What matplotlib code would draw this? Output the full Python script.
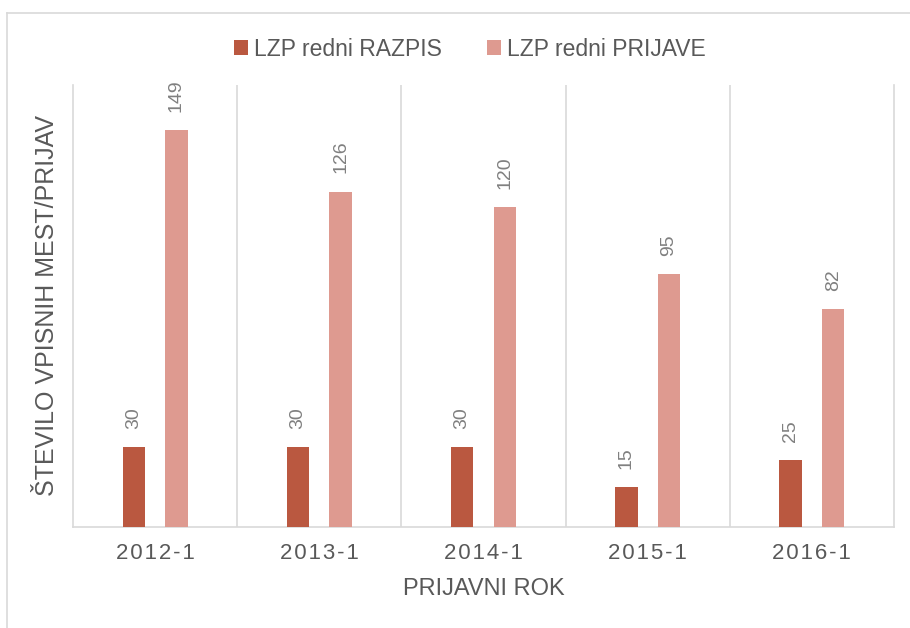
import numpy as np
import matplotlib.pyplot as plt
from matplotlib.lines import Line2D

plt.rcParams['font.family'] = ['Liberation Sans', 'DejaVu Sans']

# --- data ---
categories = ['2012-1', '2013-1', '2014-1', '2015-1', '2016-1']
razpis = [30, 30, 30, 15, 25]
prijave = [149, 126, 120, 95, 82]
series_names = ['LZP redni RAZPIS', 'LZP redni PRIJAVE']

C_RAZPIS = '#BA5840'
C_PRIJAVE = '#DE9A90'
TXT = '#595959'
LBL = '#808080'
GRID = '#D9D9D9'

fig = plt.figure(figsize=(9.1, 6.28), dpi=100)
W, H = 910, 628
ax = fig.add_axes([73 / W, 1 - 527 / H, (894 - 73) / W, (527 - 85) / H])

x = np.arange(len(categories))
bw = 0.137
off = 0.13
b1 = ax.bar(x - off, razpis, bw, color=C_RAZPIS, label=series_names[0], zorder=3)
b2 = ax.bar(x + off, prijave, bw, color=C_PRIJAVE, label=series_names[1], zorder=3)

for bars, vals in ((b1, razpis), (b2, prijave)):
    for rect, v in zip(bars, vals):
        ax.annotate(str(v), (rect.get_x() + rect.get_width() / 2, v),
                    xytext=(0, 13), textcoords='offset points',
                    rotation=90, ha='center', va='bottom',
                    fontsize=14, color=LBL)

ax.set_xlim(-0.5, len(categories) - 0.5)
ax.set_ylim(0, 166)
ax.set_yticks([])
ax.set_xticks(x)
# tick labels are slightly letter-spaced in the original (hair spaces)
ax.set_xticklabels(['\u200a'.join(c) for c in categories], fontsize=16, color=TXT)
ax.tick_params(axis='x', length=0, pad=11.5)
for xb in np.arange(0.5, len(categories) - 0.5, 1):
    ax.axvline(xb, color=GRID, lw=1.2, zorder=1)

ax.spines['top'].set_visible(False)
for side in ('left', 'right', 'bottom'):
    ax.spines[side].set_color(GRID)
    ax.spines[side].set_linewidth(1.2)

ax.set_xlabel('PRIJAVNI ROK', fontsize=17, color=TXT, labelpad=10)
ax.set_ylabel('ŠTEVILO VPISNIH MEST/PRIJAV', fontsize=18, color=TXT, labelpad=10)

fig.legend(handles=[b1, b2], labels=series_names, loc='center',
           bbox_to_anchor=(470 / W, 1 - 49 / H), ncol=2, frameon=False,
           fontsize=16.5, handlelength=0.6, handleheight=0.6,
           handletextpad=0.25, columnspacing=2.0, labelcolor=TXT)

# outer chart border (only top and left edges visible)
fig.add_artist(Line2D([7 / W, 1], [1 - 13 / H, 1 - 13 / H], color=GRID, lw=1.2))
fig.add_artist(Line2D([7 / W, 7 / W], [0, 1 - 13 / H], color=GRID, lw=1.2))

fig.savefig('out.png', dpi=100)
